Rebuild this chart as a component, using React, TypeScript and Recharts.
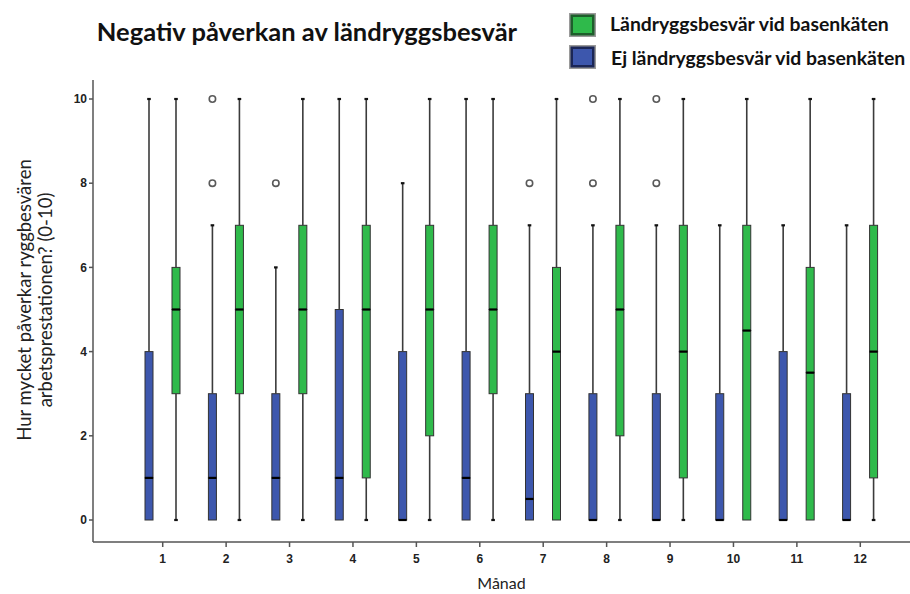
import { ComposedChart, Bar, XAxis, YAxis } from 'recharts';

const months = ['1', '2', '3', '4', '5', '6', '7', '8', '9', '10', '11', '12'];
const yTicks = [0, 2, 4, 6, 8, 10];

// Ej ländryggsbesvär vid basenkäten (blå)
const blueMin = [0, 0, 0, 0, 0, 0, 0, 0, 0, 0, 0, 0];
const blueQ1 = [0, 0, 0, 0, 0, 0, 0, 0, 0, 0, 0, 0];
const blueMedian = [1, 1, 1, 1, 0, 1, 0.5, 0, 0, 0, 0, 0];
const blueQ3 = [4, 3, 3, 5, 4, 4, 3, 3, 3, 3, 4, 3];
const blueMax = [10, 7, 6, 10, 8, 10, 7, 7, 7, 7, 7, 7];
const blueOutlierA = [null, 8, 8, null, null, null, 8, 8, 8, null, null, null];
const blueOutlierB = [null, 10, null, null, null, null, null, 10, 10, null, null, null];

// Ländryggsbesvär vid basenkäten (grön)
const greenMin = [0, 0, 0, 0, 0, 0, 0, 0, 0, 0, 0, 0];
const greenQ1 = [3, 3, 3, 1, 2, 3, 0, 2, 1, 0, 0, 1];
const greenMedian = [5, 5, 5, 5, 5, 5, 4, 5, 4, 4.5, 3.5, 4];
const greenQ3 = [6, 7, 7, 7, 7, 7, 6, 7, 7, 7, 6, 7];
const greenMax = [10, 10, 10, 10, 10, 10, 10, 10, 10, 10, 10, 10];

const BLUE = '#3d57ad';
const GREEN = '#2fba4b';
const WHISKER = '#3b3b3b';
const AXIS = '#555';
const TICK_FONT = "'Liberation Sans Narrow', 'Liberation Sans', Arial, sans-serif";
const TEXT_FONT = "Lato, 'Open Sans', sans-serif";

type Outliers = (number | null)[];

// stacked segments: base -> low whisker -> box (q1-med) -> box (med-q3) -> high whisker -> outliers
const stackRow = (
  p: string,
  i: number,
  min: number[],
  q1: number[],
  med: number[],
  q3: number[],
  max: number[],
  oa: Outliers,
  ob: Outliers,
) => {
  const a = oa[i];
  const b = ob[i];
  return {
    [`${p}Base`]: min[i],
    [`${p}Low`]: q1[i] - min[i],
    [`${p}Box1`]: med[i] - q1[i],
    [`${p}Box2`]: q3[i] - med[i],
    [`${p}High`]: max[i] - q3[i],
    [`${p}OutA`]: a == null ? 0 : a - max[i],
    [`${p}OutB`]: b == null || a == null ? 0 : b - a,
  };
};

const noOutliers: Outliers = months.map(() => null);

const data = months.map((month, i) => ({
  month,
  ...stackRow('b', i, blueMin, blueQ1, blueMedian, blueQ3, blueMax, blueOutlierA, blueOutlierB),
  ...stackRow('g', i, greenMin, greenQ1, greenMedian, greenQ3, greenMax, noOutliers, noOutliers),
}));

const emptyShape = () => <g />;

const whiskerShape = (cap: 'top' | 'bottom') => (props: any) => {
  const { x, y, width, height } = props;
  if (!height || height <= 0) return <g />;
  const cx = x + width / 2;
  const capY = cap === 'top' ? y : y + height;
  return (
    <g>
      <line x1={cx} x2={cx} y1={y} y2={y + height} stroke={WHISKER} strokeWidth={1.6} />
      <line x1={cx - 1.8} x2={cx + 1.8} y1={capY} y2={capY} stroke="#111" strokeWidth={2.2} />
    </g>
  );
};

const boxShape = (fill: string, withMedian: boolean) => (props: any) => {
  const { x, y, width, height } = props;
  if (!height || height <= 0) {
    return <g />;
  }
  return (
    <g>
      <rect x={x} y={y} width={width} height={height} fill={fill} stroke="#333" strokeWidth={1} />
      {withMedian && (
        <line x1={x} x2={x + width} y1={y + height} y2={y + height} stroke="#000" strokeWidth={2.2} />
      )}
    </g>
  );
};

const outlierShape = (values: Outliers) => (props: any) => {
  const { x, y, width, index } = props;
  if (values[index] == null) return <g />;
  return <circle cx={x + width / 2} cy={y} r={3.2} fill="none" stroke="#5a5a5a" strokeWidth={1.6} />;
};

function BoxSeries(p: string, fill: string, oa: Outliers, ob: Outliers) {
  return [
    <Bar key={`${p}Base`} dataKey={`${p}Base`} stackId={p} shape={emptyShape} isAnimationActive={false} />,
    <Bar key={`${p}Low`} dataKey={`${p}Low`} stackId={p} shape={whiskerShape('bottom')} isAnimationActive={false} />,
    <Bar key={`${p}Box1`} dataKey={`${p}Box1`} stackId={p} shape={boxShape(fill, false)} isAnimationActive={false} />,
    <Bar key={`${p}Box2`} dataKey={`${p}Box2`} stackId={p} shape={boxShape(fill, true)} isAnimationActive={false} />,
    <Bar key={`${p}High`} dataKey={`${p}High`} stackId={p} shape={whiskerShape('top')} isAnimationActive={false} />,
    <Bar key={`${p}OutA`} dataKey={`${p}OutA`} stackId={p} shape={outlierShape(oa)} isAnimationActive={false} />,
    <Bar key={`${p}OutB`} dataKey={`${p}OutB`} stackId={p} shape={outlierShape(ob)} isAnimationActive={false} />,
  ];
}

function LegendSwatch({ x, y, fill, border }: { x: number; y: number; fill: string; border: string }) {
  return (
    <g>
      <rect x={x} y={y} width={27} height={24} fill="#9a9a9a" />
      <rect x={x + 1.5} y={y + 1.5} width={24} height={21} fill={border} />
      <rect x={x + 4} y={y + 4} width={19} height={16} fill={fill} />
    </g>
  );
}

export default function App() {
  return (
    <div style={{ position: 'absolute', left: 0, top: 0, width: 910, height: 594, background: '#fff', overflow: 'hidden' }}>
      <ComposedChart
        width={910}
        height={594}
        data={data}
        margin={{ top: 80, right: 0, bottom: 2, left: 33 }}
        barSize={8}
        barGap={19}
      >
        <XAxis
          dataKey="month"
          type="category"
          interval={0}
          height={50}
          padding={{ left: 38, right: 18 }}
          axisLine={{ stroke: AXIS, strokeWidth: 1.5 }}
          tickLine={{ stroke: AXIS, strokeWidth: 1.5 }}
          tickSize={5}
          tickMargin={7}
          tick={{ fontSize: 12, fontWeight: 'bold', fill: '#222', fontFamily: TICK_FONT }}
          label={{
            value: 'Månad',
            position: 'insideBottom',
            offset: 3,
            style: { fontSize: 16, fill: '#222', fontFamily: TEXT_FONT },
          }}
        />
        <YAxis
          type="number"
          domain={[0, 10]}
          ticks={yTicks}
          width={60}
          padding={{ top: 19, bottom: 22 }}
          axisLine={{ stroke: AXIS, strokeWidth: 1.5 }}
          tickLine={{ stroke: AXIS, strokeWidth: 1.5 }}
          tickSize={4}
          tick={{ fontSize: 12, fontWeight: 'bold', fill: '#222', fontFamily: TICK_FONT }}
        />
        {BoxSeries('b', BLUE, blueOutlierA, blueOutlierB)}
        {BoxSeries('g', GREEN, noOutliers, noOutliers)}
      </ComposedChart>
      <svg
        width={910}
        height={594}
        style={{ position: 'absolute', left: 0, top: 0, pointerEvents: 'none' }}
      >
        <text x={307} y={41} textAnchor="middle" fontSize={25.5} fontWeight="bold" fill="#111" fontFamily={TEXT_FONT}>
          Negativ påverkan av ländryggsbesvär
        </text>
        <LegendSwatch x={569} y={13} fill={GREEN} border="#1d5e2b" />
        <LegendSwatch x={569} y={45} fill={BLUE} border="#1b2656" />
        <text x={610} y={31} fontSize={19.4} fontWeight="bold" fill="#111" fontFamily={TEXT_FONT}>
          Ländryggsbesvär vid basenkäten
        </text>
        <text x={611} y={65} fontSize={19.4} fontWeight="bold" fill="#111" fontFamily={TEXT_FONT}>
          Ej ländryggsbesvär vid basenkäten
        </text>
        <g fontSize={18.5} fill="#222" fontFamily={TEXT_FONT} textAnchor="middle">
          <text transform="translate(31 300) rotate(-90)">Hur mycket påverkar ryggbesvären</text>
          <text transform="translate(52 300) rotate(-90)">arbetsprestationen? (0-10)</text>
        </g>
      </svg>
    </div>
  );
}
